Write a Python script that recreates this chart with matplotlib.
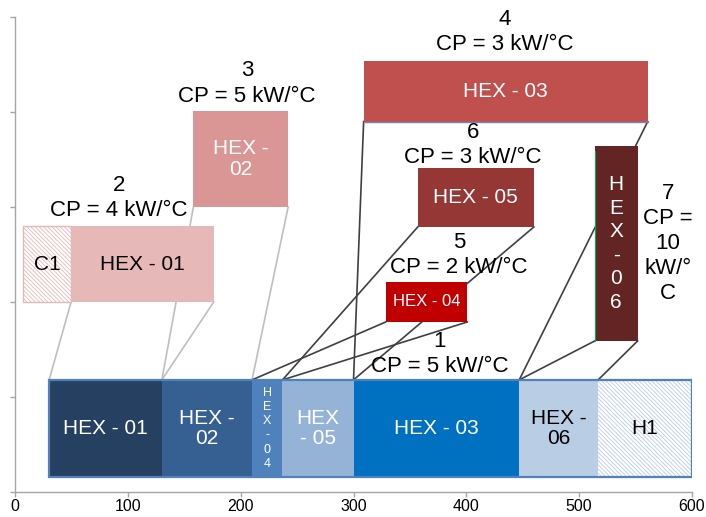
import matplotlib
matplotlib.use("Agg")
import matplotlib.pyplot as plt
from matplotlib.patches import Rectangle

plt.rcParams['font.family'] = ['Liberation Sans', 'DejaVu Sans']
plt.rcParams['hatch.linewidth'] = 0.6

# ---- data ----
# bottom (hot stream 1) segments
bottom_labels = ['HEX - 01', 'HEX -\n02', 'H\nE\nX\n-\n0\n4', 'HEX\n- 05', 'HEX - 03', 'HEX -\n06', 'H1']
bottom_start = [30, 130, 210, 237, 300, 447, 517]
bottom_end = [130, 210, 237, 300, 447, 517, 600]
bottom_colors = ['#254061', '#376092', '#4F81BD', '#95B3D7', '#0070C0', '#B9CDE5', None]
bottom_text_colors = ['white', 'white', 'white', 'white', 'white', 'black', 'black']
bottom_y0 = 0.16
bottom_y1 = 1.18

# upper (cold streams) boxes
box_labels = ['C1', 'HEX - 01', 'HEX -\n02', 'HEX - 03', 'HEX - 05', 'HEX - 04', 'H\nE\nX\n-\n0\n6']
box_x0 = [7, 49.5, 158, 309, 357, 328.6, 514]
box_x1 = [49.5, 176, 242, 561, 460, 401, 552]
box_y0 = [2.0, 2.0, 3.0, 3.9, 2.79, 1.79, 1.59]
box_y1 = [2.8, 2.8, 4.01, 4.54, 3.41, 2.21, 3.64]
box_colors = [None, '#E6B9B8', '#D99694', '#C0504D', '#953735', '#C00000', '#632523']
box_text_colors = ['black', 'black', 'white', 'white', 'white', 'white', 'white']
# which bottom segment each upper HEX box connects to (None = no link)
box_link = [None, 0, 1, 4, 3, 2, 5]
link_colors = [None, '#BFBFBF', '#BFBFBF', '#404040', '#404040', '#404040', '#404040']

# stream labels
stream_text = ['1\nCP = 5 kW/°C', '2\nCP = 4 kW/°C', '3\nCP = 5 kW/°C', '4\nCP = 3 kW/°C',
               '5\nCP = 2 kW/°C', '6\nCP = 3 kW/°C', '7\nCP =\n10\nkW/°\nC']
stream_x = [376.7, 92, 205.5, 434.4, 393.6, 406, 579]
stream_y = [1.45, 3.09, 4.30, 4.84, 2.49, 3.65, 2.62]

xticks = [0, 100, 200, 300, 400, 500, 600]
yticks = [0, 1, 2, 3, 4, 5]

# ---- figure ----
fig = plt.figure(figsize=(7.06, 5.17), dpi=100)
ax = fig.add_axes([15.3 / 706, 1 - 492 / 517, (691.7 - 15.3) / 706, (492 - 17) / 517])
ax.set_xlim(0, 600)
ax.set_ylim(0, 5)
ax.set_xticks(xticks)
ax.set_xticklabels([str(t) for t in xticks], fontsize=11.5)
ax.set_yticks(yticks)
ax.set_yticklabels([])
for s in ['top', 'right']:
    ax.spines[s].set_visible(False)
for s in ['left', 'bottom']:
    ax.spines[s].set_color('#A6A6A6')
    ax.spines[s].set_linewidth(1.0)
ax.tick_params(axis='both', colors='#A6A6A6', length=3.5, width=1.0, labelcolor='black')
ax.tick_params(axis='x', pad=1.5)

# connecting lines
for i, link in enumerate(box_link):
    if link is None:
        continue
    ax.plot([box_x0[i], bottom_start[link]], [box_y0[i], bottom_y1],
            color=link_colors[i], lw=1.2, zorder=1, clip_on=False)
    ax.plot([box_x1[i], bottom_end[link]], [box_y0[i], bottom_y1],
            color=link_colors[i], lw=1.2, zorder=1, clip_on=False)

# bottom bar
for i in range(len(bottom_labels)):
    w = bottom_end[i] - bottom_start[i]
    if bottom_colors[i] is None:
        r = Rectangle((bottom_start[i], bottom_y0), w, bottom_y1 - bottom_y0,
                      facecolor='white', edgecolor='#B9CDE5', hatch='\\\\\\\\\\\\\\\\', lw=0, zorder=2)
    else:
        r = Rectangle((bottom_start[i], bottom_y0), w, bottom_y1 - bottom_y0,
                      facecolor=bottom_colors[i], edgecolor='none', lw=0, zorder=2)
    ax.add_patch(r)
    cx = (bottom_start[i] + bottom_end[i]) / 2
    cy = (bottom_y0 + bottom_y1) / 2
    if i == 2:
        ax.text(cx, cy, bottom_labels[i], ha='center', va='center', fontsize=9,
                color=bottom_text_colors[i], linespacing=1.25, zorder=4)
    else:
        ax.text(cx, cy, bottom_labels[i], ha='center', va='center', fontsize=15,
                color=bottom_text_colors[i], linespacing=1.1, zorder=4)
ax.add_patch(Rectangle((bottom_start[0], bottom_y0), bottom_end[-1] - bottom_start[0],
                       bottom_y1 - bottom_y0, facecolor='none', edgecolor='#4F81BD',
                       lw=1.6, zorder=3))

# upper boxes
for i in range(len(box_labels)):
    w = box_x1[i] - box_x0[i]
    h = box_y1[i] - box_y0[i]
    if box_colors[i] is None:
        r = Rectangle((box_x0[i], box_y0[i]), w, h, facecolor='white', edgecolor='#E6B9B8',
                      hatch='\\\\\\\\\\\\\\\\', lw=1.0, zorder=2)
    else:
        r = Rectangle((box_x0[i], box_y0[i]), w, h, facecolor=box_colors[i],
                      edgecolor='none', lw=0, zorder=2)
    ax.add_patch(r)
    cx = (box_x0[i] + box_x1[i]) / 2
    cy = (box_y0[i] + box_y1[i]) / 2
    fs = 12 if box_labels[i] == 'HEX - 04' else 15
    ax.text(cx, cy, box_labels[i], ha='center', va='center', fontsize=fs,
            color=box_text_colors[i], linespacing=1.3 if '\n0\n6' in box_labels[i] else 1.1,
            zorder=4)
# thin accent edges
ax.plot([box_x0[3], box_x1[3]], [box_y0[3], box_y0[3]], color='#7F7FBF', lw=1.0, zorder=3)
ax.plot([box_x0[6], box_x0[6]], [box_y0[6], box_y1[6] - 0.05], color='#00B050', lw=0.8, zorder=3)

# stream labels
for t, x, y in zip(stream_text, stream_x, stream_y):
    ax.text(x, y, t, ha='center', va='center', fontsize=16, color='black',
            linespacing=1.25, zorder=5, clip_on=False)

fig.savefig('out.png', dpi=100)
